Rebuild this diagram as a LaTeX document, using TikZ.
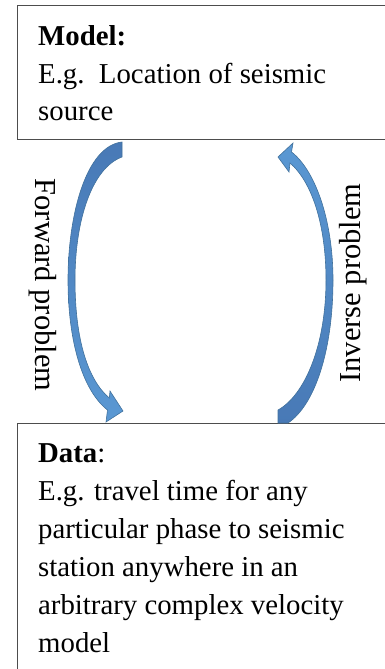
\documentclass[tikz,border=0pt]{standalone}
\usepackage{fontspec}
\setmainfont{Liberation Serif}
\definecolor{boxgray}{HTML}{4D4D4D}
\definecolor{arrowdark}{HTML}{4879B6}
\definecolor{arrowlight}{HTML}{5A98D3}
\definecolor{arrowedge}{HTML}{41719C}
\begin{document}
\begin{tikzpicture}[x=1pt,y=-1pt,
  boxline/.style={draw=boxgray, line width=1.4pt, fill=white, inner sep=0pt, anchor=north west},
  txt/.style={anchor=base west, inner sep=0pt, font=\fontsize{28.8}{37}\selectfont},
  sidelabel/.style={anchor=base, inner sep=0pt, font=\fontsize{30.5}{36}\selectfont},
  blockarrow/.style={draw=arrowedge, line width=0.6pt},
]
\useasboundingbox (0,0) rectangle (385,669);

% the two boxes run past the right and bottom edges
\begin{scope}
  \clip (0,0) rectangle (385,669);
  \node[boxline, minimum width=420pt, minimum height=134pt] (model) at (17,5) {};
  \node[boxline, minimum width=420pt, minimum height=300pt] (data) at (17,423) {};
\end{scope}

% model box text
\node[txt] (m1) at (38,46)  {\textbf{Model:}};
\node[txt] (m2) at (38,83)  {E.g.\ \ Location of seismic};
\node[txt] (m3) at (38,120) {source};

% data box text
\node[txt] (d1) at (38,462) {\textbf{Data}:};
\node[txt] (d2) at (38,500) {E.g. travel time for any};
\node[txt] (d3) at (38,538) {particular phase to seismic};
\node[txt] (d4) at (38,576) {station anywhere in an};
\node[txt] (d5) at (38,614) {arbitrary complex velocity};
\node[txt] (d6) at (38,652) {model};

% forward problem: curved block arrow from model down to data
\path[blockarrow, top color=arrowdark, bottom color=arrowlight]
  (122,142) .. controls (86,146) and (68,215) .. (68,280)
  .. controls (68,340) and (82,390) .. (107.5,410)
  -- (106,422) -- (123,411) -- (110,391) -- (109.3,398)
  .. controls (88,380) and (75,340) .. (75,280)
  .. controls (75,220) and (92,168) .. (122,157) -- cycle;

% inverse problem: curved block arrow from data up to model
\path[blockarrow, top color=arrowlight, bottom color=arrowdark]
  (278,157) -- (293,143) -- (291.5,152)
  .. controls (315,170) and (333,220) .. (333,280)
  .. controls (333,350) and (315,405) .. (288,423)
  -- (278,423) -- (278,410)
  .. controls (305,395) and (326,345) .. (326,280)
  .. controls (326,225) and (312,182) .. (290,163)
  -- (289,172) -- cycle;

% side labels
\node[sidelabel, rotate=-90] (fwd) at (35,285) {Forward problem};
\node[sidelabel, rotate=90]  (inv) at (360,283) {Inverse problem};
\end{tikzpicture}
\end{document}
